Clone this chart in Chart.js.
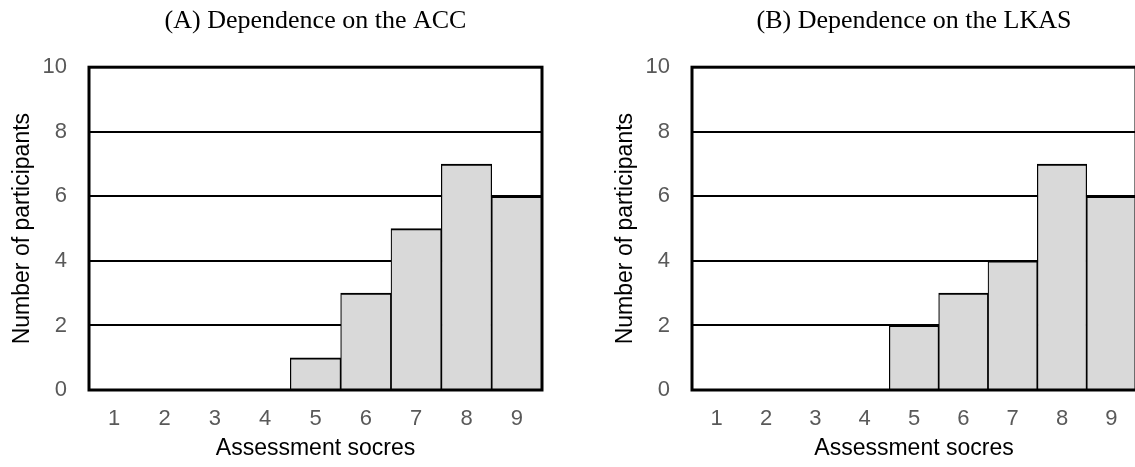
<!DOCTYPE html>
<html>
<head>
<meta charset="utf-8">
<script src="https://cdn.jsdelivr.net/npm/chart.js@4"></script>
<style>
  html, body { margin: 0; padding: 0; background: #fff; overflow: hidden; width: 1135px; height: 467px; }
  .box { position: absolute; top: 0; height: 467px; }
  #boxA { left: 0; width: 600px; }
  #boxB { left: 603px; width: 594px; }
</style>
</head>
<body>
<div class="box" id="boxA"><canvas id="chartA"></canvas></div>
<div class="box" id="boxB"><canvas id="chartB"></canvas></div>
<script>
const categories = ['1', '2', '3', '4', '5', '6', '7', '8', '9'];
const accValues = [0, 0, 0, 0, 1, 3, 5, 7, 6];
const lkasValues = [0, 0, 0, 0, 2, 3, 4, 7, 6];
const titleA = '(A) Dependence on the ACC';
const titleB = '(B) Dependence on the LKAS';
const xTitle = 'Assessment socres';
const yTitle = 'Number of participants';
const yMin = 0, yMax = 10, yStep = 2;

const framePlugin = {
  id: 'frame',
  afterDatasetsDraw(chart) {
    const a = chart.chartArea;
    const ctx = chart.ctx;
    ctx.save();
    ctx.strokeStyle = '#000';
    ctx.lineWidth = 3;
    ctx.strokeRect(a.left, a.top, a.right - a.left, a.bottom - a.top);
    ctx.restore();
  }
};

function makeChart(id, title, values, rightPad) {
  return new Chart(document.getElementById(id), {
    type: 'bar',
    data: {
      labels: categories,
      datasets: [{
        data: values,
        backgroundColor: '#d9d9d9',
        borderColor: '#000',
        borderWidth: { top: 2, left: 1.2, right: 1.2, bottom: 0 },
        borderSkipped: false,
        categoryPercentage: 1,
        barPercentage: 1
      }]
    },
    options: {
      responsive: true,
      maintainAspectRatio: false,
      animation: false,
      devicePixelRatio: 1,
      layout: { padding: { left: 0, right: rightPad, top: 0, bottom: 0 } },
      plugins: {
        legend: { display: false },
        tooltip: { enabled: false },
        title: {
          display: true,
          text: title,
          fullSize: false,
          color: '#000',
          font: { family: 'Liberation Serif', size: 26, weight: 'normal' },
          padding: { top: 6, bottom: 30 }
        }
      },
      scales: {
        x: {
          grid: { display: false, drawTicks: false },
          border: { display: false },
          ticks: {
            color: '#595959',
            font: { family: 'Liberation Sans', size: 22 },
            padding: 16
          },
          title: {
            display: true,
            text: xTitle,
            color: '#000',
            font: { family: 'Liberation Sans', size: 23 },
            padding: { top: 0, bottom: 5 }
          },
          afterFit(axis) { axis.height = 77; }
        },
        y: {
          min: yMin,
          max: yMax,
          grid: {
            color: '#000',
            lineWidth: 2,
            drawTicks: false
          },
          border: { display: false },
          ticks: {
            stepSize: yStep,
            color: '#595959',
            font: { family: 'Liberation Sans', size: 22 },
            padding: 22
          },
          title: {
            display: true,
            text: yTitle,
            color: '#000',
            font: { family: 'Liberation Sans', size: 23 },
            padding: { top: 9, bottom: 0 }
          },
          afterFit(axis) { axis.width = 89; }
        }
      }
    },
    plugins: [framePlugin]
  });
}

makeChart('chartA', titleA, accValues, 58);
makeChart('chartB', titleB, lkasValues, 61);
</script>
</body>
</html>
